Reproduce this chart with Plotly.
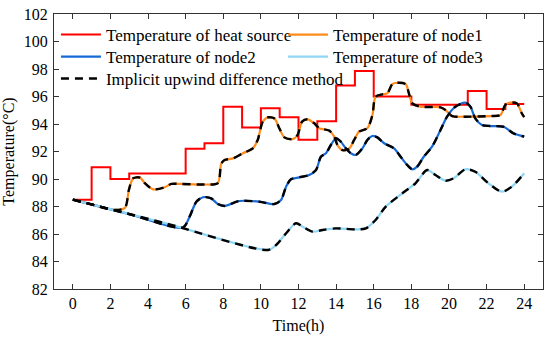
import plotly.graph_objects as go

# ---- data ----
hours = list(range(0, 25))
heat_source = [88.5, 90.85, 90.0, 90.4, 90.4, 90.4, 92.2, 92.6, 95.25, 93.75, 95.15, 94.5,
               92.85, 94.2, 96.8, 97.85, 96.0, 96.0, 95.4, 95.4, 95.4, 96.4, 95.1, 95.45, 95.45]

node1_t = [0, 1.0, 2.2, 2.77, 2.98, 3.21, 3.57, 3.83, 4.27, 4.89, 5.24, 5.77, 7.0, 7.71, 7.89, 8.07,
           8.51, 9.04, 9.57, 9.83, 10.1, 10.36, 10.72, 10.98, 11.25, 11.69, 11.95, 12.19, 12.48,
           12.84, 13.1, 13.63, 13.9, 14.07, 14.34, 14.69, 14.96, 15.22, 15.66, 15.93, 16.1, 16.46,
           16.72, 16.99, 17.25, 17.7, 17.87, 18.05, 18.49, 19.55, 19.81, 20.17, 20.78, 22.2, 22.73,
           22.99, 23.26, 23.61, 23.87, 24.0]
node1_v = [88.5, 88.15, 87.75, 87.9, 89.2, 90.05, 90.1, 89.7, 89.25, 89.4, 89.64, 89.64, 89.6, 89.7,
           91.1, 91.38, 91.5, 91.87, 92.23, 92.84, 94.17, 94.48, 94.4, 93.69, 93.03, 92.9, 93.2,
           94.17, 94.34, 94.05, 93.69, 93.52, 93.08, 92.47, 92.1, 92.2, 92.84, 93.44, 93.69, 94.65,
           95.98, 96.16, 96.23, 96.9, 97.0, 96.9, 96.23, 95.5, 95.26, 95.21, 95.02, 94.58, 94.53,
           94.58, 94.65, 95.38, 95.55, 95.5, 94.78, 94.5]

node2_t = [0, 3.0, 5.86, 6.21, 6.57, 6.92, 7.36, 7.71, 8.07, 8.86, 9.92, 10.72, 11.07, 11.34, 11.6,
           12.04, 12.57, 12.93, 13.19, 13.46, 13.72, 13.99, 14.25, 14.52, 14.78, 15.05, 15.4, 15.66,
           15.93, 16.19, 16.55, 17.08, 17.43, 17.78, 18.05, 18.31, 18.66, 19.1, 19.55, 19.9, 20.34,
           20.87, 21.14, 21.4, 21.75, 22.2, 22.9, 23.43, 24.0]
node2_v = [88.5, 87.45, 86.48, 87.26, 88.35, 88.67, 88.59, 88.18, 88.04, 88.4, 88.35, 88.18, 88.47,
           89.44, 89.98, 90.12, 90.29, 90.65, 91.62, 91.87, 92.47, 92.96, 92.71, 92.23, 91.87, 91.75,
           92.23, 92.84, 93.13, 93.03, 92.6, 92.23, 91.62, 91.02, 90.7, 90.9, 91.62, 92.35, 93.56,
           94.53, 95.26, 95.55, 95.26, 94.41, 93.93, 93.85, 93.8, 93.32, 93.08]

node3_t = [0, 5.0, 10.4, 10.81, 11.34, 11.87, 12.22, 12.75, 13.28, 13.99, 15.05, 15.58, 16.1, 16.64,
           17.52, 18.22, 18.84, 19.28, 19.81, 20.25, 20.87, 21.4, 22.1, 22.81, 23.34, 24.0]
node3_v = [88.5, 86.75, 84.84, 85.2, 86.05, 86.78, 86.53, 86.17, 86.29, 86.41, 86.34, 86.41, 87.02,
           87.99, 88.96, 89.69, 90.65, 90.29, 89.88, 90.05, 90.7, 90.53, 89.69, 89.08, 89.44, 90.42]

x_ticks = list(range(0, 25, 2))
y_ticks = list(range(82, 103, 2))

SERIF = "Times New Roman, Liberation Serif, DejaVu Serif, serif"

# ---- figure ----
fig = go.Figure()
fig.add_trace(go.Scatter(x=hours, y=heat_source, mode="lines", line=dict(color="#ff0000", width=2, shape="hv"),
                         name="Temperature of heat source", legend="legend"))
fig.add_trace(go.Scatter(x=node1_t, y=node1_v, mode="lines", line=dict(color="#ff8c1a", width=2.2, shape="spline", smoothing=0.8),
                         name="Temperature of node1", legend="legend"))
fig.add_trace(go.Scatter(x=node2_t, y=node2_v, mode="lines", line=dict(color="#1769d6", width=2.2, shape="spline", smoothing=0.8),
                         name="Temperature of node2", legend="legend2"))
fig.add_trace(go.Scatter(x=node3_t, y=node3_v, mode="lines", line=dict(color="#8fd6f5", width=2.2, shape="spline", smoothing=0.8),
                         name="Temperature of node3", legend="legend2"))
for i, (tt, vv) in enumerate([(node1_t, node1_v), (node2_t, node2_v), (node3_t, node3_v)]):
    fig.add_trace(go.Scatter(x=tt, y=vv, mode="lines",
                             line=dict(color="black", width=2.4, dash="8px,6px", shape="spline", smoothing=0.8),
                             name="Implicit upwind difference method", showlegend=(i == 0), legend="legend3"))

axis_common = dict(showline=True, linecolor="#333333", linewidth=1.2, mirror="ticks", ticks="inside",
                   ticklen=5, tickcolor="#333333", showgrid=False, zeroline=False,
                   tickfont=dict(family=SERIF, size=16, color="black"))
fig.update_xaxes(range=[-1, 25], tickvals=x_ticks,
                 title=dict(text="Time(h)", font=dict(family=SERIF, size=16, color="black"), standoff=8),
                 **axis_common)
fig.update_yaxes(range=[82, 102], tickvals=y_ticks, ticklabelstandoff=2,
                 title=dict(text="Temperature(°C)", font=dict(family=SERIF, size=16, color="black"), standoff=12),
                 **axis_common)

leg_common = dict(orientation="h", x=0.004, xanchor="left", yanchor="middle",
                  bgcolor="rgba(0,0,0,0)", itemwidth=40,
                  font=dict(family=SERIF, size=17, color="black"))

fig.update_layout(
    width=550, height=343,
    margin=dict(l=54, r=7, t=14, b=54, autoexpand=False),
    plot_bgcolor="white", paper_bgcolor="white",
    font=dict(family=SERIF, size=16, color="black"),
    legend=dict(y=0.9236, entrywidth=172, **leg_common),
    legend2=dict(y=0.8436, entrywidth=172, **leg_common),
    legend3=dict(y=0.7636, **leg_common),
)

fig.write_html("out.html", config={"displayModeBar": False},
               post_script="document.body.style.margin='0';document.body.style.overflow='hidden';")
